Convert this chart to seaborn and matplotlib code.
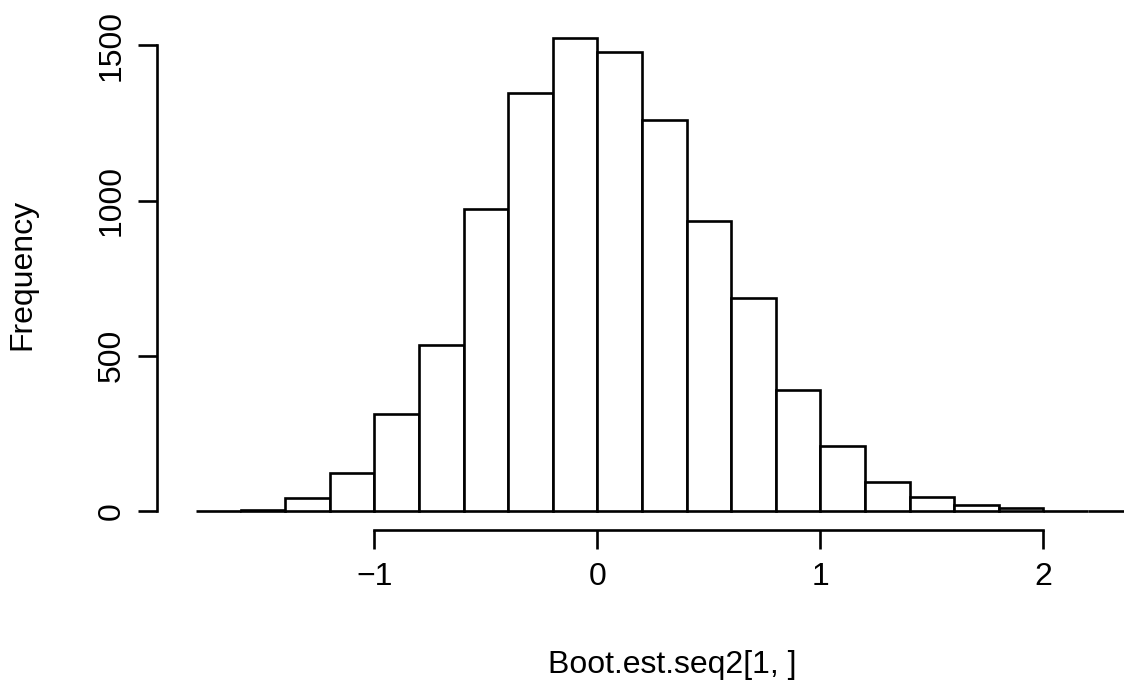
import numpy as np
import pandas as pd
import matplotlib
matplotlib.use("Agg")
import matplotlib.pyplot as plt
import seaborn as sns

# Bootstrap estimates binned in steps of 0.2
bin_edges = [-1.8, -1.6, -1.4, -1.2, -1.0, -0.8, -0.6, -0.4, -0.2, 0.0, 0.2,
             0.4, 0.6, 0.8, 1.0, 1.2, 1.4, 1.6, 1.8, 2.0, 2.2, 2.4]
counts = [1, 5, 42, 123, 312, 536, 973, 1347, 1524, 1478, 1261,
          933, 686, 389, 211, 94, 46, 21, 11, 0, 1]
x_ticks = [-1, 0, 1, 2]
y_ticks = [0, 500, 1000, 1500]

edges = np.array(bin_edges)
df = pd.DataFrame({"est": (edges[:-1] + edges[1:]) / 2, "n": counts})

sns.set_style("white")
plt.rcParams["font.family"] = ["Liberation Sans", "DejaVu Sans"]
plt.rcParams["text.color"] = "black"
plt.rcParams["axes.labelcolor"] = "black"

W, H = 1124, 687
fig = plt.figure(figsize=(W / 100, H / 100), dpi=100)
left, right, top, bottom = 157, 1124, 19, 530
ax = fig.add_axes([left / W, 1 - bottom / H, (right - left) / W, (bottom - top) / H])

sns.histplot(data=df, x="est", weights="n", bins=list(bin_edges), ax=ax,
             color="white", edgecolor="black", linewidth=1.9, alpha=1)

ax.set_xlim(-1.975, 2.361)
ax.set_ylim(-61, 1585)

for s in ["top", "right"]:
    ax.spines[s].set_visible(False)
for s in ["left", "bottom"]:
    ax.spines[s].set_linewidth(1.9)
    ax.spines[s].set_color("black")
ax.spines["bottom"].set_bounds(-1, 2)
ax.spines["left"].set_bounds(0, 1500)

ax.set_xticks(x_ticks)
ax.set_xticklabels(["\u22121", "0", "1", "2"])
ax.set_yticks(y_ticks)
ax.set_yticklabels([str(v) for v in y_ticks], rotation=90, va="center")
ax.tick_params(axis="both", direction="out", length=13.7, width=1.9,
               colors="black", labelsize=23, left=True, bottom=True)
ax.tick_params(axis="x", pad=9)
ax.tick_params(axis="y", pad=8)

ax.set_xlabel("Boot.est.seq2[1, ]", fontsize=23, color="black")
ax.set_ylabel("Frequency", fontsize=23, color="black")
ax.xaxis.label.set_va("center")
ax.yaxis.label.set_va("center")
ax.xaxis.set_label_coords((672 - left) / (right - left), (bottom - 665) / (bottom - top))
ax.yaxis.set_label_coords((22 - left) / (right - left), 0.5)
ax.grid(False)

fig.savefig("out.png", dpi=100)
